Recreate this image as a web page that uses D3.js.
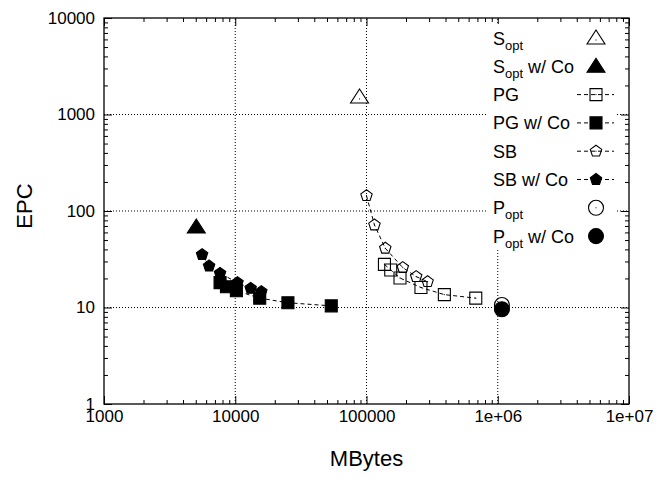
<!DOCTYPE html>
<html>
<head>
  <script src="https://cdn.jsdelivr.net/npm/d3@7"></script>
  <style>
    body { margin: 0; background: #fff; font-family: "Liberation Sans", Arial, sans-serif; }
    .grid { stroke: #000; stroke-width: 1; stroke-dasharray: 1,2; }
    .dline { fill: none; stroke: #000; stroke-width: 1; stroke-dasharray: 4,3; }
  </style>
</head>
<body>
  <div id="chart"></div>
  <script>
    // values (MBytes, EPC)
    const sOpt      = [{x: 88500, y: 1450}];
    const sOptCo    = [{x: 5050, y: 65}];
    const pg        = [{x: 137000, y: 28.0}, {x: 153000, y: 24.5}, {x: 180000, y: 20.2},
                       {x: 260000, y: 16.1}, {x: 392000, y: 13.6}, {x: 680000, y: 12.5}];
    const pgCo      = [{x: 7660, y: 18.1}, {x: 8570, y: 16.4}, {x: 10200, y: 14.9},
                       {x: 15360, y: 12.5}, {x: 25200, y: 11.2}, {x: 53900, y: 10.4}];
    const sb        = [{x: 100000, y: 144}, {x: 115000, y: 71.6}, {x: 139000, y: 41.1},
                       {x: 189000, y: 25.9}, {x: 239000, y: 20.9}, {x: 292000, y: 18.5}];
    const sbCo      = [{x: 5590, y: 35.3}, {x: 6320, y: 26.9}, {x: 7660, y: 22.6},
                       {x: 10400, y: 18.1}, {x: 13100, y: 15.8}, {x: 15800, y: 14.6}];
    const pOpt      = [{x: 1076000, y: 10.6}];
    const pOptCo    = [{x: 1076000, y: 9.6}];

    const xTicks = [1000, 10000, 100000, 1e6, 1e7];
    const xTickLabels = ["1000", "10000", "100000", "1e+06", "1e+07"];
    const yTicks = [1, 10, 100, 1000, 10000];
    const yTickLabels = ["1", "10", "100", "1000", "10000"];

    const W = 658, H = 479;
    const pLeft = 104, pRight = 629, pTop = 18, pBottom = 404;

    const svg = d3.select("#chart").append("svg")
      .attr("width", W).attr("height", H);

    const x = d3.scaleLog().domain([1000, 1e7]).range([pLeft, pRight]);
    const y = d3.scaleLog().domain([1, 10000]).range([pBottom, pTop]);

    // grid
    svg.append("g").selectAll("line").data(xTicks.slice(1, -1)).join("line")
      .attr("class", "grid")
      .attr("x1", d => x(d)).attr("x2", d => x(d))
      .attr("y1", pBottom).attr("y2", pTop);
    svg.append("g").selectAll("line").data(yTicks.slice(1, -1)).join("line")
      .attr("class", "grid")
      .attr("y1", d => y(d)).attr("y2", d => y(d))
      .attr("x1", pLeft).attr("x2", pRight);

    // minor tick values
    const minors = (lo, hi) => {
      const out = [];
      for (let d = lo; d < hi; d *= 10)
        for (let k = 2; k <= 9; k++) out.push(d * k);
      return out;
    };
    const xMinor = minors(1000, 1e7), yMinor = minors(1, 10000);

    const fontTick = "17px";

    const ax = (gen, tr, vals, labels, size) => {
      const g = svg.append("g").attr("transform", tr)
        .call(gen.tickValues(vals).tickFormat(labels ? (d, i) => labels[i] : "").tickSize(size).tickPadding(labels ? 6 : 0));
      g.select(".domain").remove();
      g.selectAll("text").attr("fill", "#000").style("font-size", fontTick)
        .style("font-family", "'Liberation Sans', Arial, sans-serif");
      return g;
    };

    ax(d3.axisBottom(x), `translate(0,${pBottom})`, xTicks, xTickLabels, -8);
    ax(d3.axisBottom(x), `translate(0,${pBottom})`, xMinor, null, -4);
    ax(d3.axisTop(x), `translate(0,${pTop})`, xTicks, null, -8);
    ax(d3.axisTop(x), `translate(0,${pTop})`, xMinor, null, -4);
    ax(d3.axisLeft(y), `translate(${pLeft},0)`, yTicks, yTickLabels, -8)
      .selectAll("text").attr("x", -9);
    ax(d3.axisLeft(y), `translate(${pLeft},0)`, yMinor, null, -4);
    ax(d3.axisRight(y), `translate(${pRight},0)`, yTicks, null, -8);
    ax(d3.axisRight(y), `translate(${pRight},0)`, yMinor, null, -4);

    // legend background (covers grid under the key)
    svg.append("rect").attr("x", 488).attr("y", 24).attr("width", 128).attr("height", 226)
      .attr("fill", "#fff");

    svg.append("rect").attr("x", pLeft).attr("y", pTop)
      .attr("width", pRight - pLeft).attr("height", pBottom - pTop)
      .attr("fill", "none").attr("stroke", "#000").attr("stroke-width", 1.3);

    // axis titles
    svg.append("text").attr("x", (pLeft + pRight) / 2).attr("y", 466)
      .attr("text-anchor", "middle").style("font-size", "22px").text("MBytes");
    svg.append("text").attr("transform", "translate(32,206) rotate(-90)")
      .attr("text-anchor", "middle").style("font-size", "22px").text("EPC");

    // marker shapes
    const pentagon = r => d3.range(5).map(k => {
      const a = -Math.PI / 2 + k * 2 * Math.PI / 5;
      return [r * Math.cos(a), r * Math.sin(a)];
    });
    const shapes = {
      tri: "M0,-10L9,4L-9,4Z",
      sq: "M-6,-6H6V6H-6Z",
      pent: "M" + pentagon(6).join("L") + "Z",
      circ: "M7.5,0A7.5,7.5 0 1,1 -7.5,0A7.5,7.5 0 1,1 7.5,0Z"
    };

    const drawMarks = (g, data, shape, filled) => {
      const m = g.selectAll(null).data(data).join("g")
        .attr("transform", d => `translate(${d.x},${d.y})`);
      m.append("path").attr("d", shapes[shape])
        .attr("fill", filled ? "#000" : "none")
        .attr("stroke", "#000").attr("stroke-width", 1.1);
      if (!filled) m.append("rect").attr("x", -0.5).attr("y", -0.5)
        .attr("width", 1).attr("height", 1).attr("fill", "#000");
    };

    const line = d3.line().x(d => x(d.x)).y(d => y(d.y));
    const plot = svg.append("g");
    const series = [
      {data: sOpt, shape: "tri", filled: false, line: false},
      {data: sOptCo, shape: "tri", filled: true, line: false},
      {data: pg, shape: "sq", filled: false, line: true},
      {data: pgCo, shape: "sq", filled: true, line: true},
      {data: sb, shape: "pent", filled: false, line: true},
      {data: sbCo, shape: "pent", filled: true, line: true},
      {data: pOpt, shape: "circ", filled: false, line: false},
      {data: pOptCo, shape: "circ", filled: true, line: false}
    ];
    series.forEach(s => {
      if (s.line) plot.append("path").datum(s.data).attr("class", "dline").attr("d", line);
      drawMarks(plot, s.data.map(d => ({x: x(d.x), y: y(d.y)})), s.shape, s.filled);
    });

    // legend
    const legendNames = [["S", "opt", ""], ["S", "opt", " w/ Co"], ["PG", "", ""], ["PG w/ Co", "", ""],
                         ["SB", "", ""], ["SB w/ Co", "", ""], ["P", "opt", ""], ["P", "opt", " w/ Co"]];
    const leg = svg.append("g");
    series.forEach((s, i) => {
      const ly = 38 + i * 28.3;
      const t = leg.append("text").attr("x", 493).attr("y", ly + 6.5).style("font-size", "18px");
      t.append("tspan").text(legendNames[i][0]);
      if (legendNames[i][1]) {
        t.append("tspan").attr("dy", 5).style("font-size", "13px").text(legendNames[i][1]);
        if (legendNames[i][2]) t.append("tspan").attr("dy", -5).text(legendNames[i][2]);
      }
      if (s.line) leg.append("line").attr("class", "dline")
        .attr("x1", 577).attr("x2", 614).attr("y1", ly).attr("y2", ly);
      drawMarks(leg, [{x: 596, y: ly + (s.shape === "tri" ? 2 : 0)}], s.shape, s.filled);
    });
  </script>
</body>
</html>
